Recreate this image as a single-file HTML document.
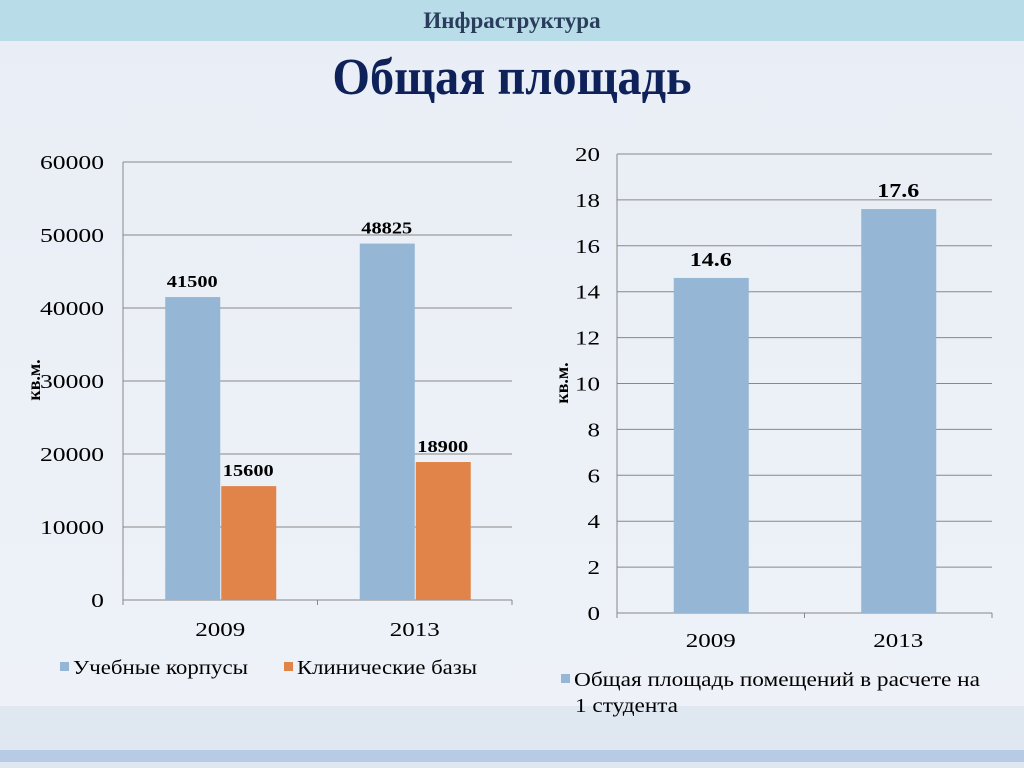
<!DOCTYPE html>
<html><head><meta charset="utf-8"><style>
body{margin:0;width:1024px;height:768px;overflow:hidden;background:linear-gradient(#e9eef6,#eef2f8);font-family:"Liberation Serif",serif;position:relative}
.banner{position:absolute;left:0;top:0;width:1024px;height:41px;background:#b8dde8;text-align:center;font-weight:bold;font-size:23px;color:#2a3d5c;line-height:42px}
h1{position:absolute;top:48px;left:0;width:1024px;text-align:center;margin:0;font-size:52px;color:#0f2159;font-weight:bold;transform:scaleX(0.93)}
.bot{position:absolute;left:0;top:706px;width:1024px;height:62px;background:#dfe7f1}
.stripe{position:absolute;left:0;top:750px;width:1024px;height:12px;background:#b8cbe4}
svg{position:absolute;left:0;top:0}
</style></head><body>
<div class="banner">Инфраструктура</div>
<h1>Общая площадь</h1>
<div class="bot"></div>
<div class="stripe"></div>
<svg id="c" width="1024" height="768" font-family="Liberation Serif, serif"></svg>
<script>
const catsL=["2009","2013"];
const seriesA=[41500,48825];
const seriesB=[15600,18900];
const ticksL=[0,10000,20000,30000,40000,50000,60000];
const catsR=["2009","2013"];
const seriesR=[14.6,17.6];
const ticksR=[0,2,4,6,8,10,12,14,16,18,20];
const svg=document.getElementById('c');const NS="http://www.w3.org/2000/svg";
function el(t,a,txt){const e=document.createElementNS(NS,t);for(const k in a)e.setAttribute(k,a[k]);if(txt!==undefined)e.textContent=txt;svg.appendChild(e);return e;}
function tl(e,cw){e.setAttribute('textLength',String(e.textContent).length*cw);e.setAttribute('lengthAdjust','spacingAndGlyphs');}
// left
const yL=v=>600-v/60000*438, x0L=123,x1L=512,cwL=(x1L-x0L)/catsL.length;
ticksL.forEach(t=>{const g=el('line',{x1:x0L,x2:x1L,y1:yL(t),y2:yL(t),stroke:'#888','stroke-width':1});

const l=el('text',{x:104,y:yL(t)+7,'font-size':20,'text-anchor':'end',fill:'#000'},t);tl(l,12.8);
});
el('line',{x1:x0L,x2:x0L,y1:yL(60000),y2:605,stroke:'#888'});
catsL.forEach((c,i)=>{const cx=x0L+cwL*(i+0.5);
el('line',{x1:x0L+cwL*(i+1),x2:x0L+cwL*(i+1),y1:600,y2:605,stroke:'#888'});
const a=el('rect',{x:cx-55,y:yL(seriesA[i]),width:55,height:600-yL(seriesA[i]),fill:'#95b6d5'});

const b=el('rect',{x:cx+1,y:yL(seriesB[i]),width:55,height:600-yL(seriesB[i]),fill:'#e0844a'});

const la=el('text',{x:cx-28,y:yL(seriesA[i])-10,'font-size':17,'font-weight':'bold','text-anchor':'middle'},seriesA[i]);tl(la,10.2);

const lb=el('text',{x:cx+28,y:yL(seriesB[i])-10,'font-size':17,'font-weight':'bold','text-anchor':'middle'},seriesB[i]);tl(lb,10.2);

const xl=el('text',{x:cx,y:636,'font-size':20,'text-anchor':'middle'},c);tl(xl,12.5);
});
const ytl=el('text',{x:0,y:0,'font-size':18,'font-weight':'bold',transform:'translate(40,380) rotate(-90)','text-anchor':'middle'},'кв.м.');

// right
const yR=v=>613-v/20*459, x0R=617,x1R=992,cwR=(x1R-x0R)/catsR.length;
ticksR.forEach(t=>{const g=el('line',{x1:x0R,x2:x1R,y1:yR(t),y2:yR(t),stroke:'#888'});

const l=el('text',{x:600,y:yR(t)+7,'font-size':20,'text-anchor':'end'},t);tl(l,12.5);
});
el('line',{x1:x0R,x2:x0R,y1:yR(20),y2:618,stroke:'#888'});
catsR.forEach((c,i)=>{const cx=x0R+cwR*(i+0.5);
el('line',{x1:x0R+cwR*(i+1),x2:x0R+cwR*(i+1),y1:613,y2:618,stroke:'#888'});
const r=el('rect',{x:cx-37,y:yR(seriesR[i]),width:75,height:613-yR(seriesR[i]),fill:'#95b6d5'});

const l=el('text',{x:cx,y:yR(seriesR[i])-12,'font-size':20,'font-weight':'bold','text-anchor':'middle'},seriesR[i].toFixed(1));tl(l,10.5);

const xl=el('text',{x:cx,y:647,'font-size':20,'text-anchor':'middle'},c);tl(xl,12.5);
});
const ytr=el('text',{x:0,y:0,'font-size':18,'font-weight':'bold',transform:'translate(568,383) rotate(-90)','text-anchor':'middle'},'кв.м.');

// legends
function leg(x,y,col,txt,name,w){const s=el('rect',{x:x,y:y-12,width:9,height:9,fill:col});
const t=el('text',{x:x+13,y:y,'font-size':20,textLength:w,lengthAdjust:'spacingAndGlyphs'},txt);}
leg(60,674,'#95b6d5','Учебные корпусы','legend-entry-uchebnye',175);
leg(284,674,'#e0844a','Клинические базы','legend-entry-klinicheskie',180);
leg(561,686,'#95b6d5','Общая площадь помещений в расчете на','legend-entry-per-student',406);
const t2=el('text',{x:575,y:712,'font-size':20,textLength:103,lengthAdjust:'spacingAndGlyphs'},'1 студента');
</script>
</body></html>
